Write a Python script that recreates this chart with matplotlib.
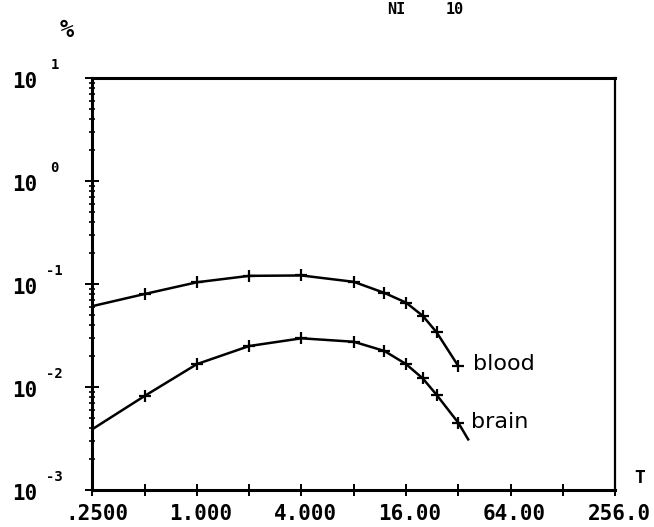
import numpy as np
import matplotlib
matplotlib.use('Agg')
import matplotlib.pyplot as plt
from matplotlib.ticker import FixedLocator, NullFormatter

# Data (T in hours, % of dose)
t_blood = [0.25, 0.5, 1, 2, 4, 8, 12, 16, 20, 24, 32]
blood = [0.061, 0.080, 0.104, 0.120, 0.121, 0.105, 0.082, 0.066, 0.049, 0.034, 0.0160]

t_brain = [0.25, 0.5, 1, 2, 4, 8, 12, 16, 20, 24, 32, 36.5]
brain = [0.0039, 0.0082, 0.0167, 0.025, 0.0297, 0.0275, 0.0224, 0.0167, 0.0121, 0.0084, 0.0045, 0.0031]

x_ticks = [0.25, 0.5, 1, 2, 4, 8, 16, 32, 64, 128, 256]
x_labels = ['.2500', '', '1.000', '', '4.000', '', '16.00', '', '64.00', '', '256.0']
y_decades = [-3, -2, -1, 0, 1]

mono = dict(family='DejaVu Sans Mono', weight='bold', color='black')

fig = plt.figure(figsize=(6.54, 5.27), dpi=100)
ax = fig.add_axes([0.1414, 0.0702, 0.799, 0.7818])

ax.set_xscale('log', base=2)
ax.set_yscale('log')
ax.set_xlim(0.25, 256)
ax.set_ylim(1e-3, 10)

# curves with "+" markers (no marker on the axis point / tail)
ax.plot(t_blood, blood, color='black', lw=1.8, marker='+', ms=8, mew=1.6,
        markevery=list(range(1, len(t_blood))))
ax.plot(t_brain, brain, color='black', lw=1.8, marker='+', ms=8, mew=1.6,
        markevery=list(range(1, len(t_brain) - 1)))

ax.annotate('blood', xy=(t_blood[-1], blood[-1]), xytext=(15, 2),
            textcoords='offset pixels', va='center', ha='left', fontsize=16)
ax.annotate('brain', xy=(t_brain[-2], brain[-2]), xytext=(13, 1),
            textcoords='offset pixels', va='center', ha='left', fontsize=16)

# axes frame and ticks
for side in ['left', 'bottom', 'top']:
    ax.spines[side].set_linewidth(2.2)
ax.spines['right'].set_linewidth(1.6)

ax.xaxis.set_major_locator(FixedLocator(x_ticks))
ax.xaxis.set_minor_locator(FixedLocator([]))
ax.yaxis.set_major_locator(FixedLocator([10.0 ** e for e in y_decades]))
minors = [m * 10.0 ** e for e in y_decades[:-1] for m in range(2, 10)]
ax.yaxis.set_minor_locator(FixedLocator(minors))
ax.xaxis.set_major_formatter(NullFormatter())
ax.yaxis.set_major_formatter(NullFormatter())
ax.yaxis.set_minor_formatter(NullFormatter())
ax.tick_params(axis='x', which='major', direction='inout', length=8, width=1.4,
               top=False)
ax.tick_params(axis='y', which='major', direction='inout', length=10, width=1.4,
               right=False)
ax.tick_params(axis='y', which='minor', direction='inout', length=5, width=1.2,
               right=False)

for xv, lab in zip(x_ticks, x_labels):
    if lab:
        ax.annotate(lab, xy=(xv, 0), xycoords=('data', 'axes fraction'),
                    xytext=(4, -24), textcoords='offset pixels',
                    ha='center', va='center', fontsize=15, **mono)

for e in y_decades:
    ax.annotate('10', xy=(0, 10.0 ** e), xycoords=('axes fraction', 'data'),
                xytext=(-68, -4), textcoords='offset pixels',
                ha='center', va='center', fontsize=15, **mono)
    ax.annotate(str(e), xy=(0, 10.0 ** e), xycoords=('axes fraction', 'data'),
                xytext=(-38, 13), textcoords='offset pixels',
                ha='center', va='center', fontsize=10, **mono)

ax.annotate('T', xy=(1, 0), xycoords='axes fraction', xytext=(25, 12),
            textcoords='offset pixels', ha='center', va='center',
            fontsize=13, **mono)

fig.text(67 / 654, 1 - 30 / 527, '%', ha='center', va='center', fontsize=17, **mono)
# header text, partly cut at the top in the original scan
fig.text(396 / 654, 1 - 2 / 527, 'NI', ha='center', va='top', fontsize=11, **mono)
fig.text(455 / 654, 1 - 2 / 527, '10', ha='center', va='top', fontsize=11, **mono)

fig.savefig('out.png', dpi=100)
